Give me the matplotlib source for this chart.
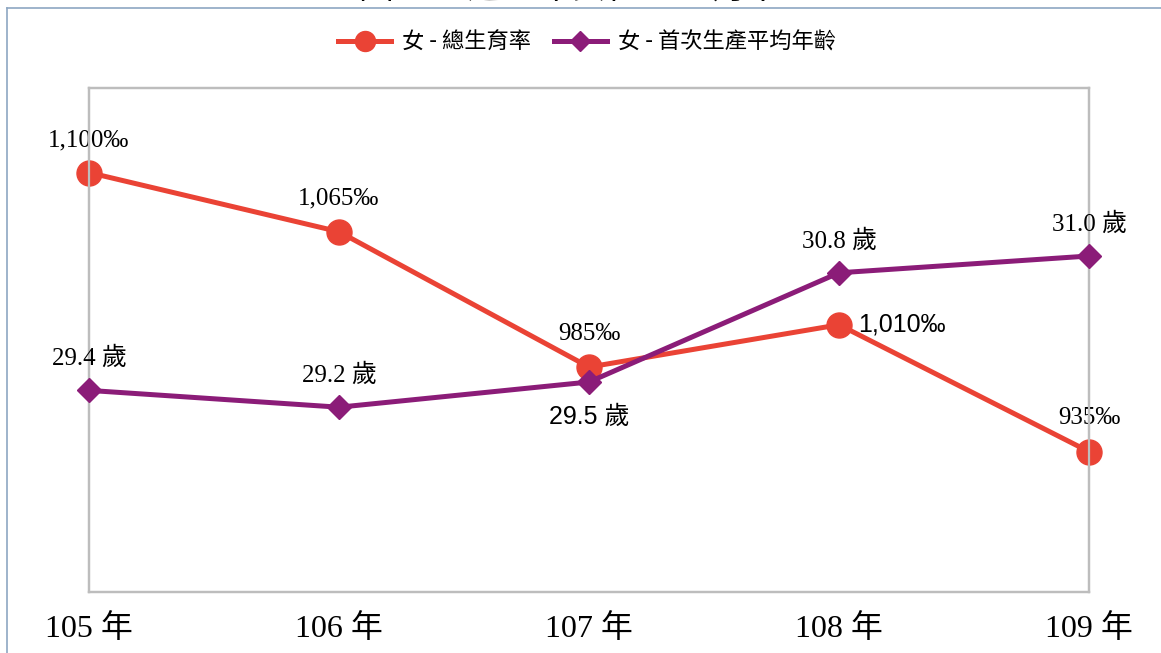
import matplotlib
matplotlib.use("Agg")
import matplotlib.pyplot as plt
from matplotlib.lines import Line2D

# ---- data ----
years = ["105 年", "106 年", "107 年", "108 年", "109 年"]
tfr = [1100, 1065, 985, 1010, 935]          # 女 - 總生育率 (‰)
tfr_labels = ["1,100‰", "1,065‰", "985‰", "1,010‰", "935‰"]
age = [29.4, 29.2, 29.5, 30.8, 31.0]        # 女 - 首次生產平均年齡
age_labels = ["29.4 歲", "29.2 歲", "29.5 歲", "30.8 歲", "31.0 歲"]

RED = "#EA4335"
PURPLE = "#8B1C78"
SERIF = ["Liberation Serif", "Noto Sans CJK TC"]
SANS = ["Liberation Sans", "Noto Sans CJK TC"]
CJK = ["Noto Sans CJK TC", "DejaVu Sans"]

W, H = 1161, 653
fig = plt.figure(figsize=(W / 100, H / 100), dpi=100)

# outer chart frame (only left + top visible)
fig.add_artist(Line2D([7 / W, 7 / W], [0, 1 - 7.5 / H], transform=fig.transFigure,
                      color="#8EA7C2", lw=1.2))
fig.add_artist(Line2D([7 / W, 1], [1 - 7.5 / H, 1 - 7.5 / H], transform=fig.transFigure,
                      color="#8EA7C2", lw=1.2))

# title, cut off by the top edge (as in the source image)
fig.text(570 / W, 1 - 7 / H, "圖 3-3  近五年女性總生育率", ha="center", va="bottom",
         fontsize=25, family=CJK)

ax = fig.add_axes([89 / W, 1 - 592 / H, 1000 / W, 504 / H])
ax2 = ax.twinx()

x = list(range(len(years)))
l1, = ax.plot(x, tfr, color=RED, lw=3.6, marker="o", ms=18, clip_on=False, zorder=3)
l2, = ax2.plot(x, age, color=PURPLE, lw=3.6, marker="D", ms=12.5, clip_on=False, zorder=3)

ax.set_xlim(0, 4)
ax.set_ylim(852, 1150)
ax2.set_ylim(27, 33)

for a in (ax, ax2):
    a.set_yticks([])
    for s in a.spines.values():
        s.set_color("#BDBDBD")
        s.set_linewidth(1.6)
ax2.set_zorder(ax.get_zorder() + 1)
ax2.patch.set_visible(False)

ax.set_xticks(x)
ax.set_xticklabels(years, family=SERIF, fontsize=23)
ax.tick_params(axis="x", length=0, pad=16)

# data labels (offsets in points)
tfr_off = [(0, 23), (0, 24), (0, 24), (14, 0), (0, 24)]
for i, (v, t) in enumerate(zip(tfr, tfr_labels)):
    dx, dy = tfr_off[i]
    fam = SANS if i == 3 else SERIF
    ax.annotate(t, (i, v), xytext=(dx, dy), textcoords="offset points",
                ha="left" if dx else "center", va="center", fontsize=18, family=fam,
                annotation_clip=False)

age_off = [(0, 23), (0, 23), (0, -25), (0, 23), (0, 23)]
for i, (v, t) in enumerate(zip(age, age_labels)):
    dx, dy = age_off[i]
    fam = SANS if i == 2 else SERIF
    ax2.annotate(t, (i, v), xytext=(dx, dy), textcoords="offset points",
                 ha="center", va="center", fontsize=18, family=fam,
                 annotation_clip=False)

fig.legend([l1, l2], ["女 - 總生育率", "女 - 首次生產平均年齡"], loc="center",
           bbox_to_anchor=(587 / W, 1 - 42 / H), ncol=2, frameon=False,
           prop={"family": CJK, "size": 16}, handlelength=2.4, handletextpad=0.5,
           columnspacing=1.0, markerscale=0.8)

fig.savefig("out.png", dpi=100)
